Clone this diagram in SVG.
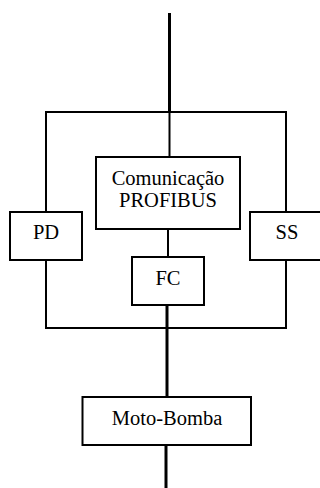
<svg xmlns="http://www.w3.org/2000/svg" width="320" height="488" viewBox="0 0 320 488">
<style>
.box{fill:#fff;stroke:#000;stroke-width:2}
.ln{fill:none;stroke:#000;stroke-width:2}
.thk{fill:none;stroke:#000;stroke-width:3}
.t{font-family:'Liberation Serif','Times New Roman','DejaVu Serif',serif;font-size:20.5px;fill:#000;text-anchor:middle}
</style>
<rect width="320" height="488" fill="#fff"/>
<g id="connectors">
<line class="thk" x1="169.5" y1="13" x2="169.5" y2="112"/>
<rect class="ln" x="46" y="112" width="240" height="216"/>
<line class="ln" x1="169.5" y1="112" x2="169.5" y2="157"/>
<line class="ln" x1="168" y1="229" x2="168" y2="257"/>
<line class="thk" x1="167" y1="305" x2="167" y2="397"/>
<line class="thk" x1="166" y1="445" x2="166" y2="488"/>
</g>
<g id="comunicacao">
<rect class="box" x="96" y="157" width="144" height="72"/>
<text class="t" x="168" y="185" font-family="Liberation Serif, serif">Comunicação</text>
<text class="t" x="168" y="206.5" font-family="Liberation Serif, serif">PROFIBUS</text>
</g>
<g id="pd">
<rect class="box" x="10" y="212" width="72" height="48"/>
<text class="t" x="46" y="238.5">PD</text>
</g>
<g id="ss">
<rect class="box" x="250" y="212" width="74" height="48"/>
<text class="t" x="287" y="238.5">SS</text>
</g>
<g id="fc">
<rect class="box" x="132" y="257" width="72" height="48"/>
<text class="t" x="168" y="284.5">FC</text>
</g>
<g id="motobomba">
<rect class="box" x="82.5" y="397" width="168.5" height="48"/>
<text class="t" x="167" y="425">Moto-Bomba</text>
</g>
</svg>
